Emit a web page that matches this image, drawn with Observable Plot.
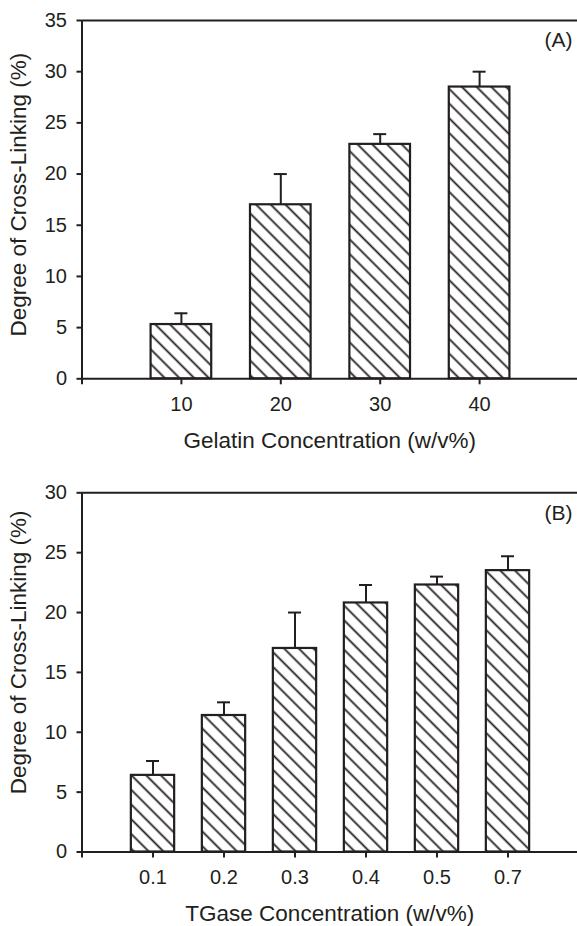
<!DOCTYPE html>
<html><head><meta charset="utf-8">
<script src="https://cdn.jsdelivr.net/npm/d3@7"></script>
<script src="https://cdn.jsdelivr.net/npm/@observablehq/plot@0.6"></script>
<style>
html,body{margin:0;padding:0;background:#fff;}
#chart svg{display:block;}
</style></head><body><div id="chart"></div>
<script>
// Panel A: gelatin concentration
const gelatinLabels = ["10", "20", "30", "40"];
const gelatinMeans = [5.3, 17.0, 22.9, 28.5];
const gelatinErrors = [1.1, 3.0, 1.0, 1.5];
const gelatinYTicks = [0, 5, 10, 15, 20, 25, 30, 35];
// Panel B: TGase concentration
const tgaseLabels = ["0.1", "0.2", "0.3", "0.4", "0.5", "0.7"];
const tgaseMeans = [6.4, 11.4, 17.0, 20.8, 22.3, 23.5];
const tgaseErrors = [1.2, 1.1, 3.0, 1.5, 0.7, 1.2];
const tgaseYTicks = [0, 5, 10, 15, 20, 25, 30];

const INK = "#231f20";
const FONT = "'Liberation Sans', Arial, Helvetica, sans-serif";

function hatchDefs(id) {
  return () => {
    const ns = "http://www.w3.org/2000/svg";
    const defs = document.createElementNS(ns, "defs");
    const p = document.createElementNS(ns, "pattern");
    const s = 10.4;
    p.setAttribute("id", id);
    p.setAttribute("patternUnits", "userSpaceOnUse");
    p.setAttribute("width", s);
    p.setAttribute("height", s);
    p.setAttribute("patternTransform", "rotate(-45)");
    const bg = document.createElementNS(ns, "rect");
    bg.setAttribute("width", s); bg.setAttribute("height", s); bg.setAttribute("fill", "#fff");
    const ln = document.createElementNS(ns, "line");
    ln.setAttribute("x1", s / 2); ln.setAttribute("x2", s / 2);
    ln.setAttribute("y1", -1); ln.setAttribute("y2", s + 1);
    ln.setAttribute("stroke", INK); ln.setAttribute("stroke-width", 1.8);
    p.appendChild(bg); p.appendChild(ln); defs.appendChild(p);
    return defs;
  };
}

function panel({labels, means, errors, yTicks, yMax, tag, xTitle, height, marginTop, marginBottom, slot, id, titleShift}) {
  const data = labels.map((label, k) => ({i: k + 1, label, mean: means[k], err: errors[k]}));
  const marginLeft = 81.5, width = 577;
  const xMax = (width - marginLeft) / slot;
  const half = 0.305, cap = 6.5 / slot;
  return Plot.plot({
    width, height, marginLeft, marginRight: 0, marginTop, marginBottom,
    style: {fontFamily: FONT, fontSize: "20px", color: INK, background: "#fff", overflow: "visible"},
    x: {domain: [0, xMax], axis: null},
    y: {domain: [0, yMax], axis: null},
    marks: [
      hatchDefs(id),
      Plot.rectY(data, {x1: d => d.i - half, x2: d => d.i + half, y1: 0, y2: "mean", fill: `url(#${id})`, stroke: INK, strokeWidth: 2.2}),
      Plot.ruleX(data, {x: "i", y1: "mean", y2: d => d.mean + d.err, stroke: INK, strokeWidth: 2}),
      Plot.ruleY(data, {y: d => d.mean + d.err, x1: d => d.i - cap, x2: d => d.i + cap, stroke: INK, strokeWidth: 2}),
      Plot.ruleY([0, yMax], {stroke: INK, strokeWidth: 2}),
      Plot.ruleX([0], {stroke: INK, strokeWidth: 2}),
      Plot.axisY({ticks: yTicks, tickSize: 5, tickPadding: 10, strokeWidth: 2, fontSize: 20, label: null}),
      Plot.axisX({ticks: d3.range(0, labels.length + 1), tickFormat: k => k === 0 ? "" : labels[k - 1], tickSize: 6, tickPadding: 12, strokeWidth: 2, fontSize: 20, label: null}),
      Plot.text([tag], {frameAnchor: "top-right", dx: -5, dy: 20, lineAnchor: "middle", textAnchor: "end", fontSize: 21, fill: INK}),
      Plot.text([xTitle], {frameAnchor: "bottom", dy: 62, lineAnchor: "middle", textAnchor: "middle", fontSize: 22.5, fill: INK}),
      Plot.text(["Degree of Cross-Linking (%)"], {frameAnchor: "left", dx: -63.5, dy: titleShift, rotate: -90, lineAnchor: "middle", textAnchor: "middle", fontSize: 22.5, fill: INK})
    ]
  });
}

const chart = document.getElementById("chart");
chart.appendChild(panel({labels: gelatinLabels, means: gelatinMeans, errors: gelatinErrors, yTicks: gelatinYTicks, yMax: 35,
  tag: "(A)", xTitle: "Gelatin Concentration (w/v%)", height: 460, marginTop: 20, marginBottom: 81.7, slot: 99.4, id: "hatchA", titleShift: -5}));
chart.appendChild(panel({labels: tgaseLabels, means: tgaseMeans, errors: tgaseErrors, yTicks: tgaseYTicks, yMax: 30,
  tag: "(B)", xTitle: "TGase Concentration (w/v%)", height: 466, marginTop: 32.3, marginBottom: 74.5, slot: 71, id: "hatchB", titleShift: -20}));
</script></body></html>
